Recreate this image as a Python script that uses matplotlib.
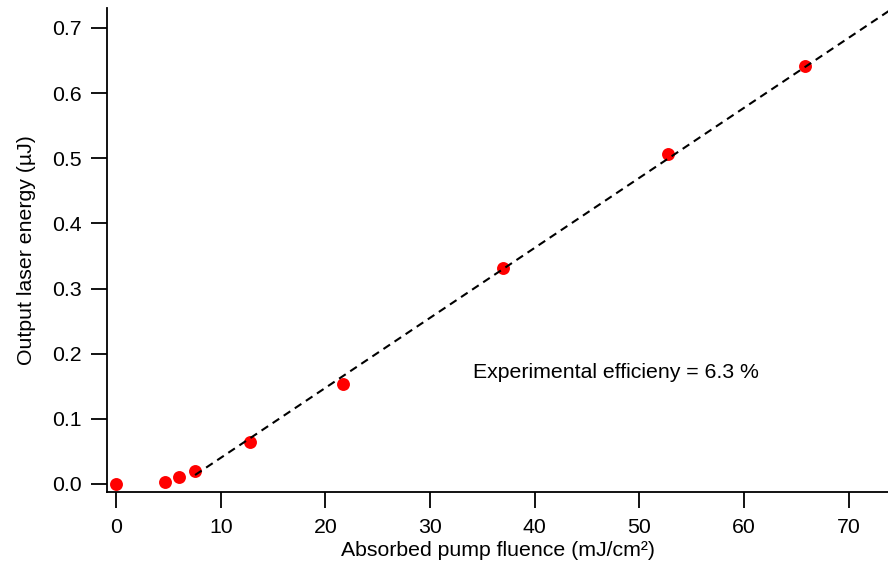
import numpy as np
import matplotlib
matplotlib.use("Agg")
import matplotlib.pyplot as plt

plt.rcParams['font.family'] = ['Liberation Sans', 'DejaVu Sans']

# Measured output energy vs absorbed pump fluence
fluence = [0.0, 4.7, 6.0, 7.55, 12.8, 21.65, 37.0, 52.7, 65.8, 74.3]
energy = [0.000, 0.003, 0.011, 0.020, 0.0645, 0.1535, 0.332, 0.506, 0.642, 0.740]

# Linear fit above threshold
fit_slope = 0.01075      # µJ per mJ/cm²
fit_threshold = 6.27     # mJ/cm²
fit_start = 7.55
fit_end = 80.0

FS = 15.3

fig = plt.figure(figsize=(8.88, 5.66), dpi=100)
ax = fig.add_axes([107 / 888, 1 - 492 / 566, 1 - 107 / 888, (492 - 8) / 566])

xf = np.array([fit_start, fit_end])
ax.plot(xf, fit_slope * (xf - fit_threshold), color='black', lw=1.5,
        dashes=(3.8, 2.6), zorder=3)
ax.plot(fluence, energy, 'o', color='#ff0000', markersize=9.3,
        markeredgewidth=0, zorder=2)

ax.set_xlim(-0.86, 73.74)
ax.set_ylim(-0.0123, 0.7307)
ax.set_xticks(np.arange(0, 80, 10))
ax.set_yticks(np.arange(0, 0.75, 0.1))
ax.yaxis.set_major_formatter(matplotlib.ticker.FormatStrFormatter('%.1f'))

for s in ('top', 'right'):
    ax.spines[s].set_visible(False)
for s in ('left', 'bottom'):
    ax.spines[s].set_linewidth(1.3)
ax.tick_params(direction='out', length=11.5, width=1.3, labelsize=FS)
ax.tick_params(axis='y', pad=6.5)
ax.tick_params(axis='x', pad=7)

ax.set_xlabel('Absorbed pump fluence (mJ/cm²)', fontsize=FS, labelpad=3)
ax.set_ylabel('Output laser energy (µJ)', fontsize=FS, labelpad=12)

ax.text(34.1, 0.171, 'Experimental efficieny = 6.3 %', fontsize=FS,
        ha='left', va='center')

fig.savefig('out.png', dpi=100)
